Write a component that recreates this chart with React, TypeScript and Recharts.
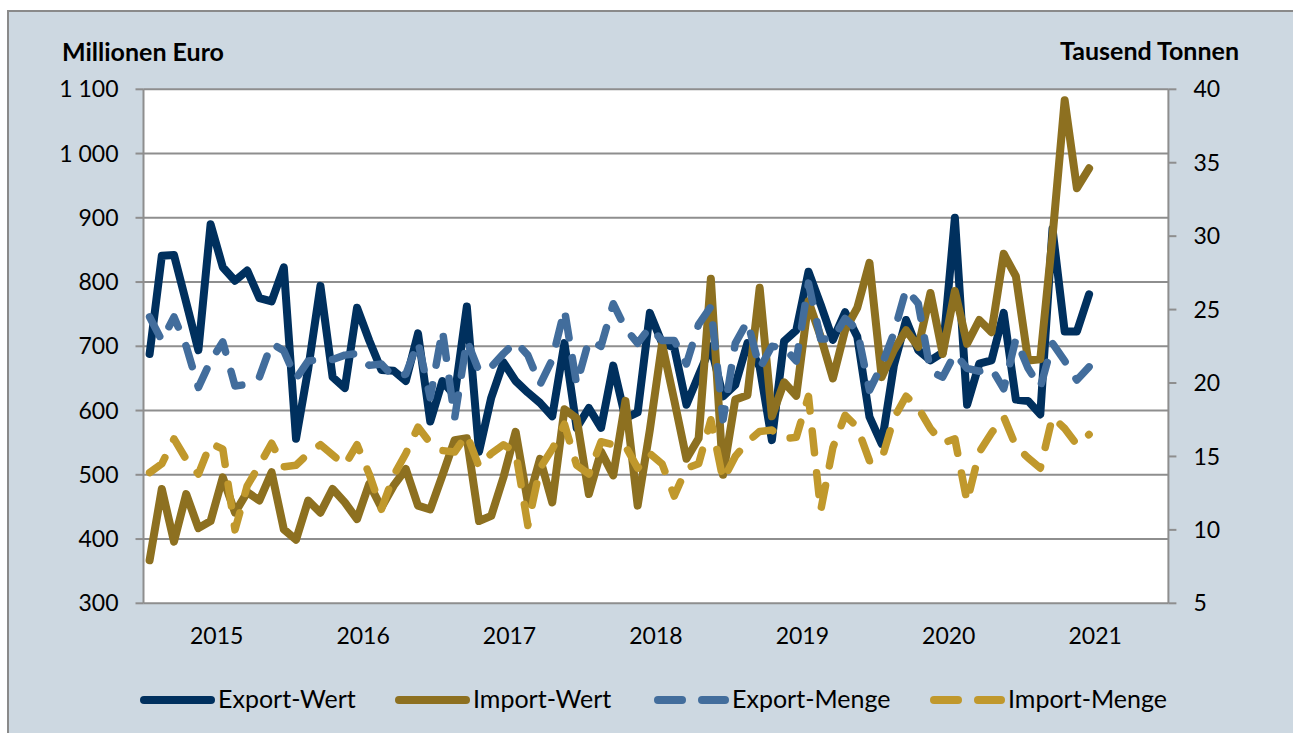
import { LineChart, Line, XAxis, YAxis, CartesianGrid } from 'recharts';

// Monatswerte Jan 2015 - Jun 2021
const YEARS = ['2015', '2016', '2017', '2018', '2019', '2020', '2021'];
const SERIES_NAMES = ['Export-Wert', 'Import-Wert', 'Export-Menge', 'Import-Menge'];

// Millionen Euro
const EXPORT_WERT = [
  688, 841, 842, 768, 694, 890, 823, 802, 818, 775, 770, 823,
  556, 665, 794, 652, 635, 760, 709, 663, 662, 646, 720, 583,
  646, 623, 762, 536, 620, 675, 646, 628, 612, 591, 705, 573,
  604, 573, 670, 588, 597, 752, 705, 698, 609, 655, 700, 622,
  640, 705, 668, 554, 708, 725, 816, 765, 710, 753, 715, 590,
  548, 670, 741, 694, 678, 690, 900, 609, 673, 678, 752, 617,
  615, 594, 883, 723, 723, 781,
];
const IMPORT_WERT = [
  367, 478, 396, 470, 417, 428, 496, 441, 473, 460, 504, 415,
  399, 460, 441, 478, 457, 431, 486, 449, 483, 509, 452, 446,
  499, 554, 557, 428, 436, 496, 567, 457, 525, 457, 602, 588,
  470, 536, 499, 615, 452, 570, 704, 616, 525, 557, 805, 500,
  617, 624, 791, 591, 644, 623, 770, 715, 650, 725, 760, 830,
  652, 694, 725, 699, 783, 688, 786, 704, 741, 722, 844, 809,
  678, 680, 870, 1083, 946, 977,
];
// Tausend Tonnen
const EXPORT_MENGE = [
  24.5, 22.9, 24.5, 22.5, 19.7, 21.5, 22.8, 19.8, 19.9, 20.4, 22.7, 22.2,
  20.3, 21.5, 21.6, 21.6, 21.9, 22.0, 21.2, 21.3, 20.4, 20.6, 22.8, 19.0,
  23.6, 17.6, 22.9, 20.8, 21.1, 22.0, 22.8, 21.9, 19.9, 21.6, 25.0, 19.9,
  22.9, 22.5, 25.4, 23.7, 22.7, 23.8, 22.9, 22.9, 21.3, 24.0, 25.2, 17.5,
  22.7, 24.2, 21.0, 22.5, 22.4, 21.5, 26.8, 23.0, 23.0, 24.4, 23.6, 19.5,
  21.2, 23.4, 26.4, 25.4, 20.8, 20.4, 22.0, 21.0, 20.8, 21.0, 19.6, 23.0,
  21.0, 19.7, 22.7, 21.5, 20.2, 21.1,
];
const IMPORT_MENGE = [
  13.9, 14.5, 16.2, 14.8, 13.8, 15.9, 15.5, 10.0, 13.0, 14.4, 15.9, 14.3,
  14.4, 15.2, 15.8, 15.1, 14.4, 15.8, 13.8, 11.4, 13.7, 15.2, 17.0, 15.9,
  15.4, 15.3, 16.5, 14.3, 15.2, 15.8, 15.3, 10.3, 14.2, 15.5, 17.2, 14.4,
  13.8, 16.0, 15.8, 15.7, 14.2, 15.2, 14.5, 12.3, 14.2, 14.5, 17.5, 13.4,
  15.0, 16.0, 16.7, 16.8, 16.2, 16.3, 19.1, 11.3, 15.6, 17.8, 17.0, 14.7,
  14.8, 17.6, 19.1, 18.3, 16.9, 15.9, 16.2, 11.9, 15.3, 16.6, 17.7, 15.7,
  14.9, 14.2, 17.7, 16.9, 15.8, 16.5,
];

const LEFT_TICKS = [300, 400, 500, 600, 700, 800, 900, 1000, 1100];
const RIGHT_TICKS = [5, 10, 15, 20, 25, 30, 35, 40];
const MONTH_TICKS = YEARS.map((_, i) => i * 12).concat(YEARS.length * 12);
const YEAR_TICKS = YEARS.map((_, i) => i * 12 + 6);

const COLORS = ['#00305e', '#8d7020', '#426d9c', '#c0982c'];
const GRID = '#8e8e8e';
const FONT = 'Lato, "Open Sans", sans-serif';
const DASH = '22 20';

const data = EXPORT_WERT.map((v, i) => ({
  x: i + 0.5,
  exportWert: v,
  importWert: IMPORT_WERT[i],
  exportMenge: EXPORT_MENGE[i],
  importMenge: IMPORT_MENGE[i],
}));

const fmtLeft = (v: number) =>
  v >= 1000 ? `${Math.floor(v / 1000)} ${String(v % 1000).padStart(3, '0')}` : String(v);

const tickStyle = { fill: '#000', fontSize: 23, fontFamily: FONT };

const Legend = () => {
  const items = [
    { x: 140, dashed: false },
    { x: 395, dashed: false },
    { x: 654, dashed: true },
    { x: 930, dashed: true },
  ];
  return (
    <svg
      width={1293}
      height={733}
      style={{ position: 'absolute', left: 0, top: 0, pointerEvents: 'none' }}
    >
      <text x={62} y={61} fontFamily={FONT} fontSize={25} fontWeight={700} fill="#000">
        Millionen Euro
      </text>
      <text x={1239} y={60} textAnchor="end" fontFamily={FONT} fontSize={25} fontWeight={700} fill="#000">
        Tausend Tonnen
      </text>
      {items.map((it, i) => (
        <g key={SERIES_NAMES[i]}>
          {it.dashed ? (
            <>
              <line x1={it.x + 4} x2={it.x + 28} y1={700} y2={700} stroke={COLORS[i]} strokeWidth={8} strokeLinecap="round" />
              <line x1={it.x + 48} x2={it.x + 71} y1={700} y2={700} stroke={COLORS[i]} strokeWidth={8} strokeLinecap="round" />
            </>
          ) : (
            <line x1={it.x + 4} x2={it.x + 71} y1={700} y2={700} stroke={COLORS[i]} strokeWidth={8} strokeLinecap="round" />
          )}
          <text x={it.x + 78} y={708} fontFamily={FONT} fontSize={25} fill="#000">
            {SERIES_NAMES[i]}
          </text>
        </g>
      ))}
    </svg>
  );
};

export default function App() {
  return (
    <div style={{ position: 'relative', width: 1293, height: 733, background: '#fff', overflow: 'hidden' }}>
      <style>{'body{margin:0}'}</style>
      <div
        style={{
          position: 'absolute',
          left: 7,
          top: 10,
          width: 1300,
          height: 740,
          background: '#cdd8e1',
          borderLeft: '2px solid #8a8a8a',
          borderTop: '2px solid #8a8a8a',
        }}
      />
      <div style={{ position: 'absolute', left: 0, top: 0 }}>
        <LineChart
          width={1293}
          height={733}
          data={data}
          margin={{ top: 89.3, right: 0, bottom: 0, left: 0 }}
          style={{ fontFamily: FONT }}
        >
          <CartesianGrid
            xAxisId="m"
            yAxisId="l"
            vertical={false}
            fill="#fff"
            stroke={GRID}
            strokeWidth={2}
          />
          <XAxis
            xAxisId="m"
            type="number"
            dataKey="x"
            domain={[0, 84]}
            ticks={MONTH_TICKS}
            tick={false}
            tickSize={8}
            height={0}
            axisLine={{ stroke: GRID, strokeWidth: 2 }}
            tickLine={{ stroke: GRID, strokeWidth: 2 }}
          />
          <XAxis
            xAxisId="yr"
            type="number"
            dataKey="x"
            domain={[0, 84]}
            ticks={YEAR_TICKS}
            tickFormatter={(v: number) => YEARS[(v - 6) / 12]}
            axisLine={false}
            tickLine={false}
            tickSize={0}
            tickMargin={24}
            height={129.7}
            tick={tickStyle}
          />
          <YAxis
            yAxisId="l"
            domain={[300, 1100]}
            ticks={LEFT_TICKS}
            tickFormatter={fmtLeft}
            width={143.5}
            tickSize={8}
            tickMargin={17}
            tick={tickStyle}
            axisLine={{ stroke: GRID, strokeWidth: 2 }}
            tickLine={{ stroke: GRID, strokeWidth: 2 }}
          />
          <YAxis
            yAxisId="r"
            orientation="right"
            domain={[5, 40]}
            ticks={RIGHT_TICKS}
            width={124.6}
            tickSize={8}
            tickMargin={17}
            tick={tickStyle}
            axisLine={{ stroke: GRID, strokeWidth: 2 }}
            tickLine={{ stroke: GRID, strokeWidth: 2 }}
          />
          <Line
            xAxisId="m"
            yAxisId="l"
            type="linear"
            dataKey="exportWert"
            stroke={COLORS[0]}
            strokeWidth={8}
            strokeLinejoin="round"
            strokeLinecap="round"
            dot={false}
            isAnimationActive={false}
          />
          <Line
            xAxisId="m"
            yAxisId="l"
            type="linear"
            dataKey="importWert"
            stroke={COLORS[1]}
            strokeWidth={8}
            strokeLinejoin="round"
            strokeLinecap="round"
            dot={false}
            isAnimationActive={false}
          />
          <Line
            xAxisId="m"
            yAxisId="r"
            type="linear"
            dataKey="exportMenge"
            stroke={COLORS[2]}
            strokeWidth={7.5}
            strokeDasharray={DASH}
            strokeLinejoin="round"
            strokeLinecap="round"
            dot={false}
            isAnimationActive={false}
          />
          <Line
            xAxisId="m"
            yAxisId="r"
            type="linear"
            dataKey="importMenge"
            stroke={COLORS[3]}
            strokeWidth={7.5}
            strokeDasharray={DASH}
            strokeLinejoin="round"
            strokeLinecap="round"
            dot={false}
            isAnimationActive={false}
          />
        </LineChart>
      </div>
      <Legend />
    </div>
  );
}
